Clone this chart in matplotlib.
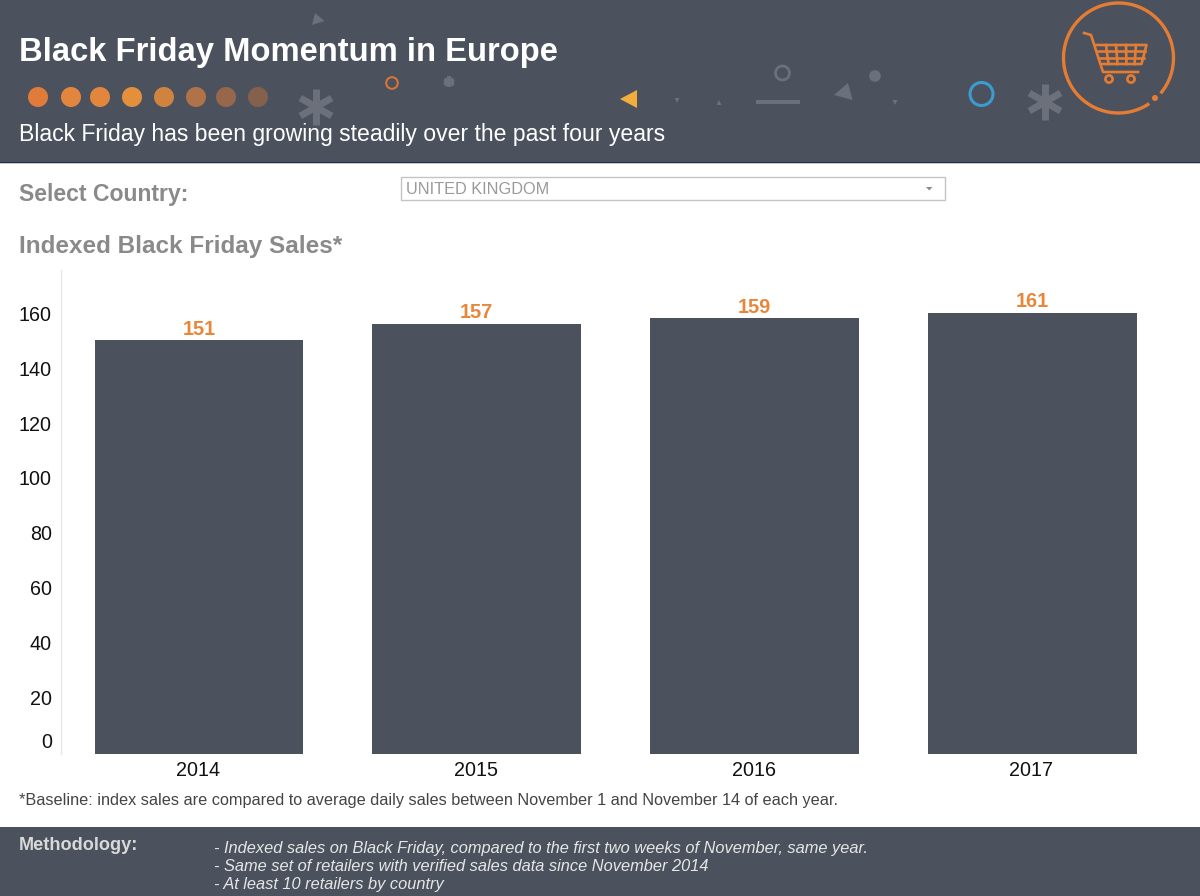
import matplotlib
matplotlib.use("Agg")
import matplotlib.pyplot as plt
import matplotlib.transforms as mtrans
from matplotlib.patches import Arc, Circle, Polygon, Rectangle

years = ["2014", "2015", "2016", "2017"]
sales_index = [151, 157, 159, 161]
y_ticks = [0, 20, 40, 60, 80, 100, 120, 140, 160]
methodology = [
    "- Indexed sales on Black Friday, compared to the first two weeks of November, same year.",
    "- Same set of retailers with verified sales data since November 2014",
    "- At least 10 retailers by country",
]
dot_colors = ["#e07b39", "#e2853d", "#e2853d", "#e38f3c", "#d0823f", "#b27248", "#96674a", "#84604d"]
dot_x = [38, 71, 100, 132, 164, 196, 226, 258]

W, H = 1200, 896
SLATE = "#4b525d"
DECOR = "#6b707a"
ORANGE = "#e57c33"

plt.rcParams["font.family"] = ["Liberation Sans", "DejaVu Sans"]


def asterisk(ax, x, y, r, lw):
    for dx, dy in [(0, r), (0.87 * r, 0.5 * r), (0.87 * r, -0.5 * r)]:
        ax.plot([x - dx, x + dx], [y - dy, y + dy], color=DECOR, lw=lw, solid_capstyle="butt")


def ring(ax, x, y, r, color, lw):
    ax.add_patch(Circle((x, y), r, fill=False, ec=color, lw=lw))


def tri(ax, pts, color):
    ax.add_patch(Polygon(pts, closed=True, fc=color, ec="none"))


def draw_cart(ax):
    lw = 1.9
    ax.add_patch(Arc((1118.5, 58), 110, 110, theta1=56, theta2=400, ec=ORANGE, lw=2.4))
    ax.add_patch(Circle((1155, 98), 3, fc=ORANGE, ec="none"))
    ax.plot([1084, 1091, 1103, 1138], [33, 35, 72, 72], color=ORANGE, lw=lw)
    ax.plot([1096, 1146.5, 1141.5, 1101], [45, 45, 64, 64], color=ORANGE, lw=lw)
    for y, x0, x1 in [(51.5, 1097.5, 1145), (58, 1099, 1143.5)]:
        ax.plot([x0, x1], [y, y], color=ORANGE, lw=lw)
    for top, bot in [(1106, 1108.5), (1116, 1117.5), (1126, 1126.5), (1136, 1134.5)]:
        ax.plot([top, bot], [45, 64], color=ORANGE, lw=lw)
    ring(ax, 1109, 79, 3.6, ORANGE, lw)
    ring(ax, 1131, 79, 3.6, ORANGE, lw)


def main():
    fig = plt.figure(figsize=(W / 100, H / 100), dpi=100, facecolor="white")

    # bar chart
    left, right, top, bottom = 61, 1172, 270, 754
    ax = fig.add_axes([left / W, 1 - bottom / H, (right - left) / W, (bottom - top) / H])
    positions = list(range(len(years)))
    ax.bar(positions, sales_index, width=0.752, color=SLATE)
    ax.set_xlim(-0.497, 3.503)
    ax.set_ylim(0, 176.6)
    ax.set_xticks(positions, years)
    ax.set_yticks(y_ticks)
    ax.tick_params(axis="both", length=0, labelsize=14.2, labelcolor="#111111")
    ax.tick_params(axis="x", pad=5)
    ax.tick_params(axis="y", pad=6.5)
    for s in ["top", "right", "bottom"]:
        ax.spines[s].set_visible(False)
    ax.spines["left"].set_color("#e8e8e8")
    ax.spines["left"].set_linewidth(1)
    # labels sit a little above their ticks, the zero one well above the baseline
    for tick, label in zip(y_ticks, ax.get_yticklabels()):
        up = 13.5 if tick == 0 else 2
        label.set_transform(label.get_transform() + mtrans.ScaledTranslation(0, up / 100, fig.dpi_scale_trans))
    for label in ax.get_xticklabels():
        label.set_transform(label.get_transform() + mtrans.ScaledTranslation(-1 / 100, 0, fig.dpi_scale_trans))
    for x, v in zip(positions, sales_index):
        ax.annotate(str(v), (x, v), xytext=(0, 1), textcoords="offset points", ha="center", va="bottom",
                    fontsize=14.4, fontweight="bold", color="#e8873a")

    # page furniture in pixel coordinates
    pg = fig.add_axes([0, 0, 1, 1], zorder=-1)
    pg.set_xlim(0, W)
    pg.set_ylim(H, 0)
    pg.axis("off")
    over = fig.add_axes([0, 0, 1, 1], zorder=5)
    over.set_xlim(0, W)
    over.set_ylim(H, 0)
    over.axis("off")
    over.patch.set_alpha(0)

    pg.add_patch(Rectangle((0, 0), W, 162, fc=SLATE, ec="none"))
    pg.add_patch(Rectangle((0, 162), W, 1.2, fc="#1d2a44", ec="none"))
    pg.add_patch(Rectangle((0, 163.2), W, 1.2, fc="#c5ced4", ec="none"))
    pg.add_patch(Rectangle((0, 827), W, 69, fc=SLATE, ec="none"))

    # header ornaments
    tri(over, [(312, 25), (315, 13), (324.5, 21)], DECOR)
    asterisk(over, 316, 107, 18, 5)
    ring(over, 392, 83, 5.8, "#d9743a", 1.5)
    asterisk(over, 449, 82, 5.5, 3)
    tri(over, [(637, 90), (620, 99), (637, 108)], "#f2ae3d")
    tri(over, [(674.5, 98), (679.5, 98), (677, 103)], DECOR)
    tri(over, [(716.5, 105), (721.5, 105), (719, 100)], DECOR)
    tri(over, [(892.5, 100), (897.5, 100), (895, 105)], DECOR)
    ring(over, 782.5, 73, 7, DECOR, 2)
    over.add_patch(Rectangle((756, 100), 44, 4, fc=DECOR, ec="none"))
    tri(over, [(834, 95), (848, 83), (852.6, 100)], DECOR)
    over.add_patch(Circle((875, 76), 5.8, fc=DECOR, ec="none"))
    ring(over, 981.5, 94, 11.5, "#3c9bd0", 2.2)
    asterisk(over, 1045, 102, 18, 5)
    draw_cart(over)
    for x, c in zip(dot_x, dot_colors):
        over.add_patch(Circle((x, 97), 10, fc=c, ec="none"))

    over.text(19, 52, "Black Friday Momentum in Europe", color="white", fontsize=23.6, fontweight="bold", va="center")
    over.text(19, 134, "Black Friday has been growing steadily over the past four years", color="white", fontsize=16.55, va="center")
    over.text(19, 195, "Select Country:", color="#8a8a8a", fontsize=16.6, fontweight="bold", va="center")
    over.text(19, 247, "Indexed Black Friday Sales*", color="#8a8a8a", fontsize=17.5, fontweight="bold", va="center")

    over.add_patch(Rectangle((400.5, 177.5), 544, 23, fc="white", ec="#c4c4c4", lw=1))
    over.text(406, 189, "UNITED KINGDOM", color="#9a9a9a", fontsize=11.7, va="center")
    tri(over, [(926, 187), (932.5, 187), (929.2, 190.5)], "#8c8c8c")

    over.text(19, 801, "*Baseline: index sales are compared to average daily sales between November 1 and November 14 of each year.",
              color="#444444", fontsize=11.7, va="center")
    over.text(19, 846, "Methodology:", color="#d9d9d9", fontsize=13.1, fontweight="bold", va="center")
    for y, line in zip([849, 866.5, 885], methodology):
        over.text(214, y, line, color="#e6e6e6", fontsize=11.8, style="italic", va="center")

    fig.savefig("out.png", dpi=100)


if __name__ == "__main__":
    main()
